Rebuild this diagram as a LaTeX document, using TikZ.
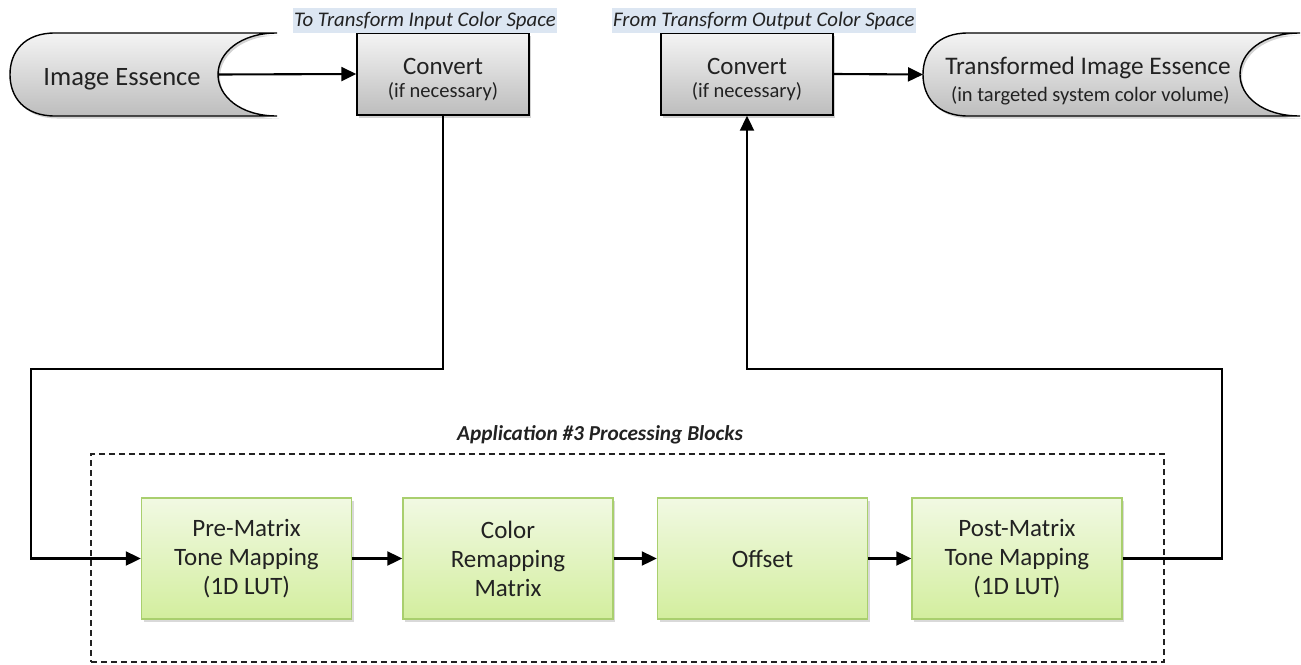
\documentclass[tikz,border=0pt]{standalone}
\usepackage{fontspec}
\setmainfont{Carlito}
\usepackage{tikz}
\usetikzlibrary{arrows.meta,shadows}

\definecolor{bandblue}{HTML}{DCE6F2}
\definecolor{greentop}{HTML}{F1F9E3}
\definecolor{greenbot}{HTML}{D3EE9E}
\definecolor{greenedge}{HTML}{A9CF6E}
\definecolor{graytop}{HTML}{F4F4F4}
\definecolor{graybot}{HTML}{BDBDBD}
\definecolor{inkgray}{HTML}{222222}

\tikzset{
	arr/.style={-{Triangle[length=15pt,width=14pt]}, line width=2.1pt, draw=black},
	convbox/.style={draw=black, line width=1.4pt, top color=graytop, bottom color=graybot,
		drop shadow={opacity=0.35, shadow xshift=2pt, shadow yshift=-2.5pt},
		minimum width=172, minimum height=82, align=center, text=inkgray,
		font=\fontsize{25}{28}\selectfont},
	procbox/.style={draw=greenedge, line width=1.4pt, top color=greentop, bottom color=greenbot,
		drop shadow={opacity=0.3, shadow xshift=2pt, shadow yshift=-2.5pt},
		minimum width=210, minimum height=121, align=center, text=inkgray,
		font=\fontsize{25}{29}\selectfont},
	media/.style={draw=black, line width=1.4pt, top color=graytop, bottom color=graybot,
		drop shadow={opacity=0.35, shadow xshift=2pt, shadow yshift=-2.5pt}},
	band/.style={fill=bandblue, anchor=west, inner xsep=1pt, inner ysep=0pt, minimum height=25,
		text=inkgray, font=\fontsize{20.8}{23}\selectfont\itshape},
	groupbox/.style={draw=inkgray, line width=1.4pt, dash pattern=on 6pt off 4pt,
		minimum width=1073, minimum height=208}
}

\begin{document}
\begin{tikzpicture}[x=1pt,y=-1pt]
	\useasboundingbox (0,0) rectangle (1301,664);

	% source and target media
	\path[media] (277,33) -- (55,33) .. controls (24,33) and (10,52) .. (10,74.5)
		.. controls (10,97) and (24,116) .. (55,116) -- (277,116)
		.. controls (240,116) and (218,96) .. (218,74.5)
		.. controls (218,53) and (240,33) .. (277,33);
	\node[text=inkgray, font=\fontsize{26.5}{30}\selectfont] (essence) at (122,79) {Image Essence};
	\coordinate (essenceout) at (218,74.5);

	\path[media] (1300,33) -- (968,33) .. controls (937,33) and (923,52) .. (923,74.5)
		.. controls (923,97) and (937,116) .. (968,116) -- (1300,116)
		.. controls (1262,116) and (1240,96) .. (1240,74.5)
		.. controls (1240,53) and (1262,33) .. (1300,33);
	\node[text=inkgray, align=center, font=\fontsize{25.3}{28}\selectfont] (target) at (1088,81)
		{Transformed Image Essence\\[-1pt]{\fontsize{20.5}{24}\selectfont\ (in targeted system color volume)}};
	\coordinate (targetin) at (923,74.5);

	% converters
	\node[convbox] (conv1) at (443,74) {\rule{0pt}{27pt}Convert\\[-5pt]{\fontsize{20.5}{24}\selectfont (if necessary)}};
	\node[convbox] (conv2) at (747,74) {\rule{0pt}{27pt}Convert\\[-5pt]{\fontsize{20.5}{24}\selectfont (if necessary)}};
	\node[band] (conv1label) at (293,20.5) {To Transform Input Color Space\hspace{6pt}};
	\node[band] (conv2label) at (612,20.5) {From Transform Output Color Space\hspace{4pt}};

	% processing blocks
	\node[groupbox] (blocks) at (627.5,558) {};
	\node[text=inkgray, font=\fontsize{21.3}{24}\selectfont\bfseries\itshape] (blockslabel) at (600,435)
		{Application \#3 Processing Blocks};
	\node[procbox] (pre) at (246.5,558.5) {Pre-Matrix\\Tone Mapping\\(1D LUT)};
	\node[procbox] (remap) at (508,558.5) {Color\\Remapping\\Matrix};
	\node[procbox] (offset) at (762.5,558.5) {Offset};
	\node[procbox] (post) at (1017,558.5) {Post-Matrix\\Tone Mapping\\(1D LUT)};

	\coordinate (bendin) at (31,369);
	\coordinate (bendout) at (1222,369);

	\draw[arr] (essenceout) -- (conv1.west);
	\draw[arr] (conv2.east) -- (targetin);
	\draw[arr] (conv1.south) |- (bendin) |- (pre.west);
	\draw[arr] (pre.east) -- (remap.west);
	\draw[arr] (remap.east) -- (offset.west);
	\draw[arr] (offset.east) -- (post.west);
	\draw[arr] (post.east) -| (bendout) -| (conv2.south);
\end{tikzpicture}
\end{document}
